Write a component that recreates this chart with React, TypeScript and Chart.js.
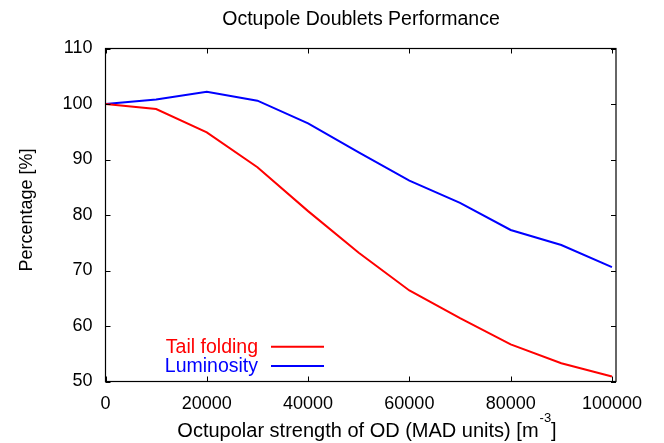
import React, { useEffect, useRef } from 'react';
import { Chart, registerables } from 'chart.js';

Chart.register(...registerables);

// ---- data ----
const strengths = [0, 10000, 20000, 30000, 40000, 50000, 60000, 70000, 80000, 90000, 100000];
const tailFolding = [100, 99.1, 94.9, 88.6, 80.7, 73.2, 66.4, 61.4, 56.7, 53.3, 50.9];
const luminosity = [100, 100.8, 102.2, 100.6, 96.5, 91.3, 86.2, 82.2, 77.3, 74.6, 70.6];
const xTickValues = [0, 20000, 40000, 60000, 80000, 100000];
const yTickValues = [50, 60, 70, 80, 90, 100, 110];
const seriesLabels = ['Tail folding', 'Luminosity'];
const seriesColors = ['#ff0000', '#0000ff'];
const chartTitle = 'Octupole Doublets Performance';
const xTitleMain = 'Octupolar strength of OD (MAD units) [m';
const xTitleSup = '-3';
const xTitleEnd = ']';
const yTitle = 'Percentage [%]';

const FONT = "'Liberation Sans', Arial, Helvetica, sans-serif";

const framePlugin = {
  id: 'gnuplotFrame',
  afterDatasetsDraw(chart: any) {
    const { ctx, chartArea } = chart;
    const xs = chart.scales.x;
    const ys = chart.scales.y;
    const L = chartArea.left, R = chartArea.right, T = chartArea.top, B = chartArea.bottom;
    const tl = 5;
    ctx.save();
    ctx.strokeStyle = '#000';
    ctx.lineWidth = 1;
    ctx.beginPath();
    xTickValues.forEach((v) => {
      const px = Math.round(xs.getPixelForValue(v)) + 0.5;
      ctx.moveTo(px, B); ctx.lineTo(px, B - tl);
      ctx.moveTo(px, T); ctx.lineTo(px, T + tl);
    });
    yTickValues.forEach((v) => {
      const py = Math.round(ys.getPixelForValue(v)) + 0.5;
      ctx.moveTo(L, py); ctx.lineTo(L + tl, py);
      ctx.moveTo(R, py); ctx.lineTo(R - tl, py);
    });
    ctx.stroke();
    ctx.lineWidth = 1.2;
    ctx.strokeRect(L, T, R - L, B - T);
    ctx.restore();
  },
  afterDraw(chart: any) {
    const { ctx } = chart;
    ctx.save();
    ctx.fillStyle = '#000';
    ctx.textBaseline = 'alphabetic';
    // title
    ctx.font = `19.5px ${FONT}`;
    ctx.textAlign = 'center';
    ctx.fillText(chartTitle, 361, 25);
    // x title with superscript
    ctx.font = `20px ${FONT}`;
    const wMain = ctx.measureText(xTitleMain).width;
    const wEnd = ctx.measureText(xTitleEnd).width;
    ctx.font = `13px ${FONT}`;
    const wSup = ctx.measureText(xTitleSup).width + 1;
    const total = wMain + wSup + wEnd;
    const x0 = 367 - total / 2;
    ctx.textAlign = 'left';
    ctx.font = `20px ${FONT}`;
    ctx.fillText(xTitleMain, x0, 437);
    ctx.font = `13px ${FONT}`;
    ctx.fillText(xTitleSup, x0 + wMain + 1, 422);
    ctx.font = `20px ${FONT}`;
    ctx.fillText(xTitleEnd, x0 + wMain + wSup, 437);
    // y title
    ctx.save();
    ctx.translate(32, 210);
    ctx.rotate(-Math.PI / 2);
    ctx.textAlign = 'center';
    ctx.font = `18px ${FONT}`;
    ctx.fillText(yTitle, 0, 0);
    ctx.restore();
    // legend
    const rows = [
      { textY: 353.3, lineY: 346.7 },
      { textY: 372, lineY: 366 },
    ];
    chart.data.datasets.forEach((ds: any, i: number) => {
      const r = rows[i];
      ctx.font = `19.5px ${FONT}`;
      ctx.textAlign = 'right';
      ctx.fillStyle = ds.borderColor;
      ctx.fillText(ds.label, 258, r.textY);
      ctx.strokeStyle = ds.borderColor;
      ctx.lineWidth = 2;
      ctx.beginPath();
      ctx.moveTo(271, r.lineY);
      ctx.lineTo(324, r.lineY);
      ctx.stroke();
    });
    ctx.restore();
  },
};

export default function App() {
  const canvasRef = useRef<HTMLCanvasElement | null>(null);

  useEffect(() => {
    if (!canvasRef.current) return;
    const chart = new Chart(canvasRef.current, {
      type: 'line',
      data: {
        datasets: [
          {
            label: seriesLabels[0],
            data: strengths.map((x, i) => ({ x, y: tailFolding[i] })),
            borderColor: seriesColors[0],
            backgroundColor: seriesColors[0],
            borderWidth: 2,
            pointRadius: 0,
            tension: 0,
          },
          {
            label: seriesLabels[1],
            data: strengths.map((x, i) => ({ x, y: luminosity[i] })),
            borderColor: seriesColors[1],
            backgroundColor: seriesColors[1],
            borderWidth: 2,
            pointRadius: 0,
            tension: 0,
          },
        ],
      },
      options: {
        responsive: false,
        animation: false,
        layout: { padding: { top: 48.5, right: 48, left: 0, bottom: 0 } },
        plugins: {
          legend: { display: false },
          title: { display: false },
          tooltip: { enabled: false },
        },
        scales: {
          x: {
            type: 'linear',
            min: 0,
            max: 100800,
            afterBuildTicks: (scale: any) => {
              scale.ticks = xTickValues.map((v) => ({ value: v }));
            },
            afterFit: (scale: any) => {
              scale.height = 61.5;
            },
            grid: { display: false, drawTicks: false },
            border: { display: false },
            ticks: {
              padding: 12,
              color: '#000',
              font: { family: FONT, size: 18 },
              maxRotation: 0,
              autoSkip: false,
              callback: (v: any) => String(v),
            },
          },
          y: {
            type: 'linear',
            min: 50,
            max: 110,
            afterBuildTicks: (scale: any) => {
              scale.ticks = yTickValues.map((v) => ({ value: v }));
            },
            afterFit: (scale: any) => {
              scale.width = 105.5;
            },
            grid: { display: false, drawTicks: false },
            border: { display: false },
            ticks: {
              padding: 13,
              color: '#000',
              font: { family: FONT, size: 18 },
              callback: (v: any) => String(v),
            },
          },
        },
      },
      plugins: [framePlugin],
    });
    return () => chart.destroy();
  }, []);

  return (
    <div style={{ position: 'absolute', left: 0, top: 0, width: 664, height: 443, background: '#fff' }}>
      <canvas ref={canvasRef} width={664} height={443} />
    </div>
  );
}
